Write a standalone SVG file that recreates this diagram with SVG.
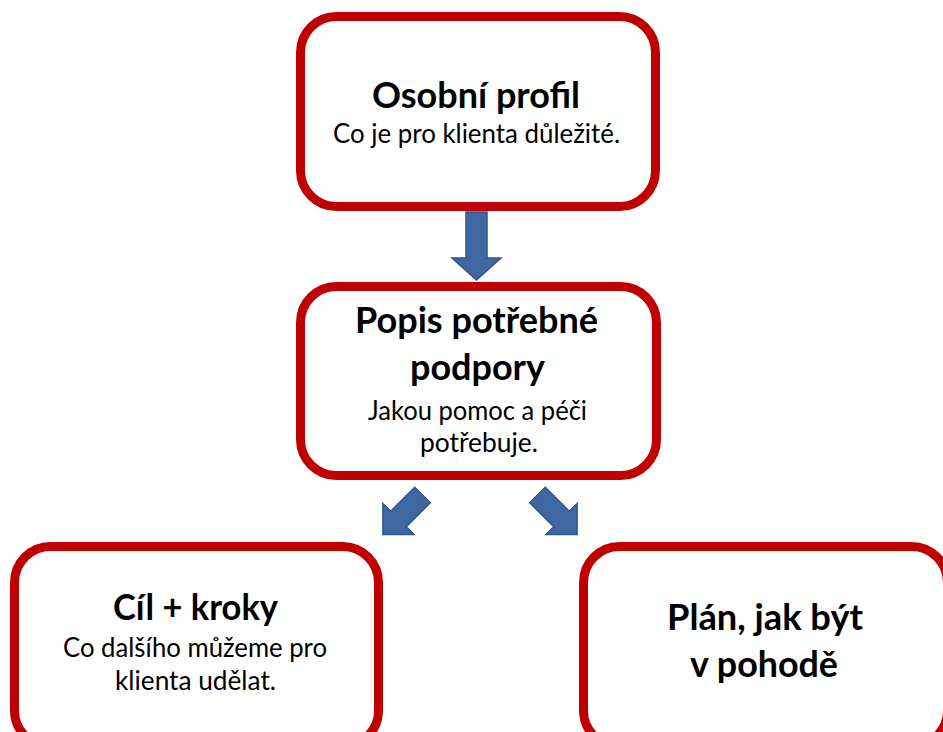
<svg xmlns="http://www.w3.org/2000/svg" width="943" height="732" viewBox="0 0 943 732">
<style>
.box{fill:#ffffff;stroke:#c00000;stroke-width:9}
.t{font-family:Lato,"Open Sans","Liberation Sans",sans-serif;fill:#000;text-anchor:middle}
.h{font-weight:bold;font-size:35.5px}
.s{font-size:26px}
.arr{fill:#3f68a3;stroke:#2f528f;stroke-width:1.5;stroke-linejoin:miter}
</style>
<rect width="943" height="732" fill="#ffffff"/>
<g id="connectors">
<polygon class="arr" transform="translate(476.5,212)" points="-10.5,0 10.5,0 10.5,46 24.5,46 0,68 -24.5,46 -10.5,46"/>
<polygon class="arr" transform="translate(422.5,495) rotate(45)" points="-11,0 11,0 11,34 22,34 0,56 -22,34 -11,34"/>
<polygon class="arr" transform="translate(537.5,495) rotate(-45)" points="-11,0 11,0 11,34 22,34 0,56 -22,34 -11,34"/>
</g>
<g id="node-profil">
<rect class="box" x="300.5" y="16.5" width="355" height="190" rx="36"/>
<text class="t h" x="476" y="108" textLength="208" lengthAdjust="spacingAndGlyphs">Osobní profil</text>
<text class="t s" x="476.5" y="143" textLength="287" lengthAdjust="spacingAndGlyphs">Co je pro klienta důležité.</text>
</g>
<g id="node-popis">
<rect class="box" x="300.5" y="286.5" width="356" height="189" rx="36"/>
<text class="t h" x="476.5" y="333" textLength="243" lengthAdjust="spacingAndGlyphs">Popis potřebné</text>
<text class="t h" x="477.5" y="380" textLength="135" lengthAdjust="spacingAndGlyphs">podpory</text>
<text class="t s" x="477.5" y="420" textLength="219" lengthAdjust="spacingAndGlyphs">Jakou pomoc a péči</text>
<text class="t s" x="479" y="452" textLength="118" lengthAdjust="spacingAndGlyphs">potřebuje.</text>
</g>
<g id="node-cil">
<rect class="box" x="14.5" y="546.5" width="364" height="200" rx="36"/>
<text class="t h" x="195.5" y="620" textLength="165" lengthAdjust="spacingAndGlyphs">Cíl + kroky</text>
<text class="t s" x="195" y="657" textLength="264" lengthAdjust="spacingAndGlyphs">Co dalšího můžeme pro</text>
<text class="t s" x="195.5" y="690" textLength="161" lengthAdjust="spacingAndGlyphs">klienta udělat.</text>
</g>
<g id="node-plan">
<rect class="box" x="583.5" y="546.5" width="364" height="200" rx="36"/>
<text class="t h" x="765" y="630" textLength="196" lengthAdjust="spacingAndGlyphs">Plán, jak být</text>
<text class="t h" x="764" y="677" textLength="148" lengthAdjust="spacingAndGlyphs">v pohodě</text>
</g>
</svg>
